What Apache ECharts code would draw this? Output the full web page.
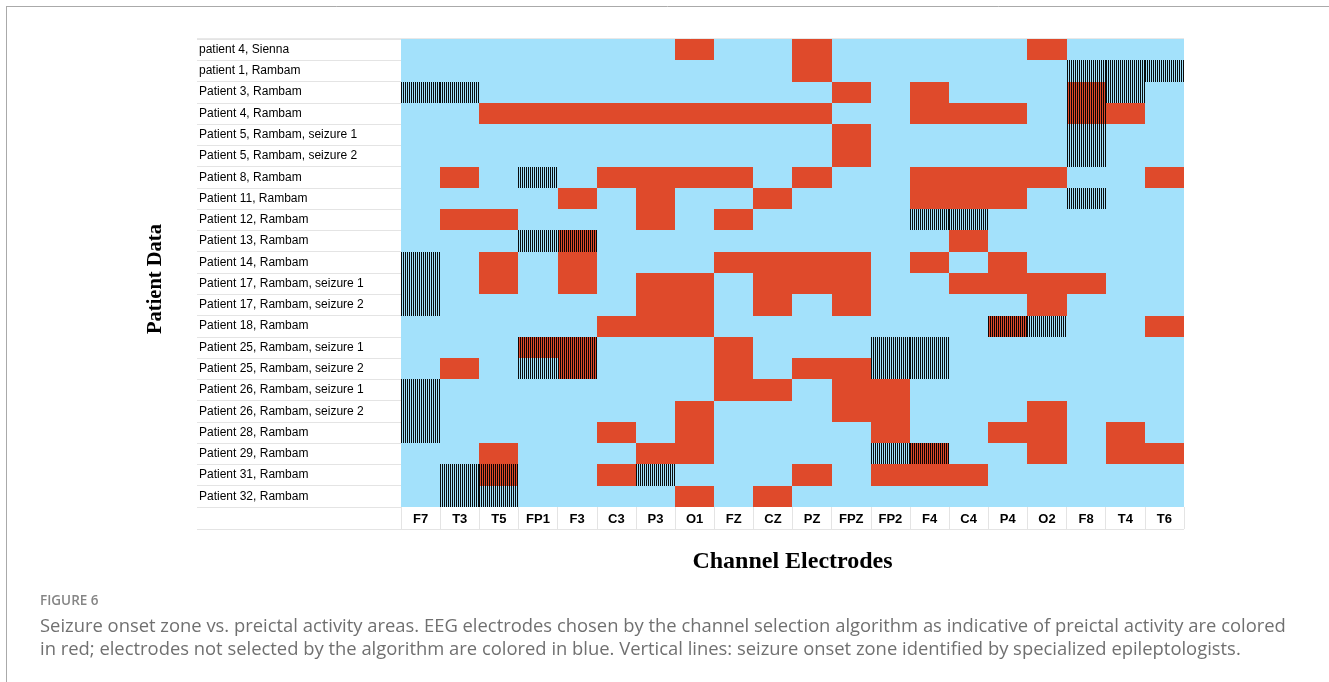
<!DOCTYPE html>
<html>
<head>
<meta charset="utf-8">
<script src="https://cdn.jsdelivr.net/npm/echarts@6/dist/echarts.min.js"></script>
<style>
html,body{margin:0;padding:0;background:#fff;}
#chart{width:1329px;height:682px;}
</style>
</head>
<body>
<div id="chart"></div>
<script>
const channels = ['F7','T3','T5','FP1','F3','C3','P3','O1','FZ','CZ','PZ','FPZ','FP2','F4','C4','P4','O2','F8','T4','T6'];
const patients = [
  'patient 4, Sienna',
  'patient 1, Rambam',
  'Patient 3, Rambam',
  'Patient 4, Rambam',
  'Patient 5, Rambam, seizure 1',
  'Patient 5, Rambam, seizure 2',
  'Patient 8, Rambam',
  'Patient 11, Rambam',
  'Patient 12, Rambam',
  'Patient 13, Rambam',
  'Patient 14, Rambam',
  'Patient 17, Rambam, seizure 1',
  'Patient 17, Rambam, seizure 2',
  'Patient 18, Rambam',
  'Patient 25, Rambam, seizure 1',
  'Patient 25, Rambam, seizure 2',
  'Patient 26, Rambam, seizure 1',
  'Patient 26, Rambam, seizure 2',
  'Patient 28, Rambam',
  'Patient 29, Rambam',
  'Patient 31, Rambam',
  'Patient 32, Rambam'
];
// electrodes selected by the algorithm (red), per patient row
const selected = [
  ['O1','PZ','O2'],
  ['PZ'],
  ['FPZ','F4','F8'],
  ['T5','FP1','F3','C3','P3','O1','FZ','CZ','PZ','F4','C4','P4','F8','T4'],
  ['FPZ'],
  ['FPZ'],
  ['T3','C3','P3','O1','FZ','PZ','F4','C4','P4','O2','T6'],
  ['F3','P3','CZ','F4','C4','P4'],
  ['T3','T5','P3','FZ'],
  ['F3','C4'],
  ['T5','F3','FZ','CZ','PZ','FPZ','F4','P4'],
  ['T5','F3','P3','O1','CZ','PZ','FPZ','C4','P4','O2','F8'],
  ['P3','O1','CZ','FPZ','O2'],
  ['C3','P3','O1','P4','T6'],
  ['FP1','F3','FZ'],
  ['T3','F3','FZ','PZ','FPZ'],
  ['FZ','CZ','FPZ','FP2'],
  ['O1','FPZ','FP2','O2'],
  ['C3','O1','FP2','P4','O2','T4'],
  ['T5','P3','O1','F4','O2','T4','T6'],
  ['T5','C3','PZ','FP2','F4','C4'],
  ['O1','CZ']
];
// seizure onset zone (vertical lines), per patient row
const onset = [
  [],
  ['F8','T4','T6'],
  ['F7','T3','F8','T4'],
  ['F8'],
  ['F8'],
  ['F8'],
  ['FP1'],
  ['F8'],
  ['F4','C4'],
  ['FP1','F3'],
  ['F7'],
  ['F7'],
  ['F7'],
  ['P4','O2'],
  ['FP1','F3','FP2','F4'],
  ['FP1','F3','FP2','F4'],
  ['F7'],
  ['F7'],
  ['F7'],
  ['FP2','F4'],
  ['T3','T5','P3'],
  ['T3','T5']
];

const RED = '#df4a2b';
const BLUE = '#a3e1fb';

const cells = [];
patients.forEach((p, r) => {
  channels.forEach((c, ci) => {
    cells.push([ci, r, selected[r].includes(c) ? 1 : 0, onset[r].includes(c) ? 1 : 0]);
  });
});

function renderItem(params, api) {
  const xi = api.value(0), yi = api.value(1);
  const sel = api.value(2), ons = api.value(3);
  const c = api.coord([xi, yi]);
  const s = api.size([1, 1]);
  const x0 = Math.round(c[0] - s[0] / 2), x1 = Math.round(c[0] + s[0] / 2);
  const y0 = Math.round(c[1] - s[1] / 2), y1 = Math.round(c[1] + s[1] / 2);
  const children = [{
    type: 'rect',
    shape: { x: x0, y: y0, width: x1 - x0, height: y1 - y0 },
    style: { fill: sel ? RED : BLUE }
  }];
  if (ons) {
    for (let lx = x0 + 0.5; lx < x1; lx += 2) {
      children.push({
        type: 'line',
        shape: { x1: lx, y1: y0, x2: lx, y2: y1 },
        style: { stroke: '#000', lineWidth: 1, opacity: 0.95 }
      });
    }
  }
  return { type: 'group', children };
}

const chart = echarts.init(document.getElementById('chart'), null, { renderer: 'canvas' });
chart.setOption({
  animation: false,
  backgroundColor: '#fff',
  grid: { left: 401, right: 145, top: 39, bottom: 175, containLabel: false },
  xAxis: {
    type: 'category',
    data: channels,
    position: 'bottom',
    axisLine: { show: false },
    axisTick: { show: true, length: 22, lineStyle: { color: '#e4e4e4' } },
    axisLabel: { fontFamily: 'Liberation Sans', fontSize: 13, fontWeight: 'bold', color: '#000', margin: 6 },
    name: 'Channel Electrodes',
    nameLocation: 'middle',
    nameGap: 43,
    nameTextStyle: { fontFamily: 'Liberation Serif', fontSize: 24, fontWeight: 'bold', color: '#000' },
    splitLine: { show: false }
  },
  yAxis: {
    type: 'category',
    data: patients,
    inverse: true,
    axisLine: { show: false },
    axisTick: { show: true, length: 204, lineStyle: { color: '#e4e4e4' } },
    axisLabel: { fontFamily: 'Liberation Sans', fontSize: 12, color: '#000', align: 'left', margin: 202 },
    splitLine: { show: false }
  },
  series: [{
    type: 'custom',
    renderItem: renderItem,
    encode: { x: 0, y: 1 },
    data: cells
  }],
  graphic: [
    { type: 'line', shape: { x1: 6, y1: 6.5, x2: 1329, y2: 6.5 }, style: { stroke: '#aaa', lineWidth: 1 } },
    { type: 'line', shape: { x1: 6.5, y1: 6, x2: 6.5, y2: 682 }, style: { stroke: '#aaa', lineWidth: 1 } },
    { type: 'line', shape: { x1: 197, y1: 38.5, x2: 1184, y2: 38.5 }, style: { stroke: '#e8e8e8', lineWidth: 1 } },
    { type: 'line', shape: { x1: 197, y1: 529.5, x2: 1184, y2: 529.5 }, style: { stroke: '#e4e4e4', lineWidth: 1 } },
    { type: 'text', x: 156, y: 279, rotation: Math.PI / 2,
      style: { text: 'Patient Data', font: 'bold 20.5px "Liberation Serif"', fill: '#000', align: 'center', verticalAlign: 'middle' } },
    { type: 'text', left: 40, top: 594, style: { text: 'FIGURE 6', font: '600 13.5px "Open Sans"', fill: '#858585' } },
    { type: 'text', left: 40, top: 618, style: { text: 'Seizure onset zone vs. preictal activity areas. EEG electrodes chosen by the channel selection algorithm as indicative of preictal activity are colored', font: '18.4px "Open Sans"', fill: '#707070' } },
    { type: 'text', left: 40, top: 641, style: { text: 'in red; electrodes not selected by the algorithm are colored in blue. Vertical lines: seizure onset zone identified by specialized epileptologists.', font: '18.4px "Open Sans"', fill: '#707070' } }
  ]
});
</script>
</body>
</html>
